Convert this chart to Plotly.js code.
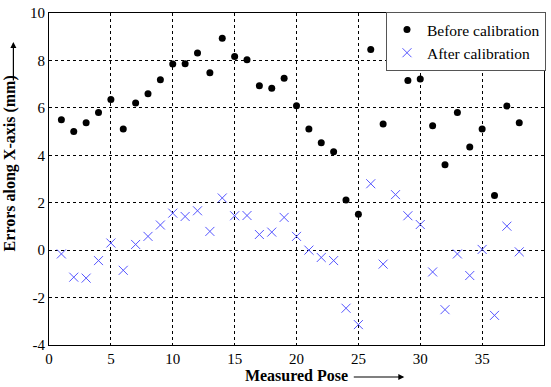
<!DOCTYPE html>
<html>
<head>
<meta charset="utf-8">
<script src="https://cdn.plot.ly/plotly-3.0.1.min.js"></script>
<style>html,body{margin:0;padding:0;background:#fff;}#chart{width:551px;height:387px;}</style>
</head>
<body>
<div id="chart"></div>
<script>
const poses = [1,2,3,4,5,6,7,8,9,10,11,12,13,14,15,16,17,18,19,20,21,22,23,24,25,26,27,28,29,30,31,32,33,34,35,36,37,38];
const beforeCal = [5.5,5.0,5.37,5.8,6.35,5.11,6.21,6.6,7.18,7.85,7.86,8.31,7.48,8.94,8.17,8.03,6.93,6.83,7.25,6.09,
  5.11,4.53,4.15,2.11,1.51,8.46,5.32,8.15,7.15,7.22,5.25,3.6,5.8,4.35,5.11,2.3,6.08,5.37];
const afterCal = [-0.16,-1.14,-1.18,-0.44,0.3,-0.85,0.24,0.58,1.06,1.56,1.42,1.66,0.79,2.2,1.45,1.46,0.66,0.76,1.38,0.58,
  0.0,-0.31,-0.44,-2.45,-3.14,2.8,-0.59,2.34,1.45,1.08,-0.92,-2.51,-0.16,-1.07,0.03,-2.75,1.01,-0.07];
const xTicks = [0,5,10,15,20,25,30,35,40];
const yTicks = [-4,-2,0,2,4,6,8,10];

const serif = 'Liberation Serif';
const traces = [
  {x: poses, y: beforeCal, type: 'scatter', mode: 'markers', name: 'Before calibration',
   marker: {symbol: 'circle', size: 7, color: '#000'}},
  {x: poses, y: afterCal, type: 'scatter', mode: 'markers', name: 'After calibration',
   marker: {symbol: 'x-thin-open', size: 9, color: 'rgb(85,85,255)', line: {width: 1, color: 'rgb(85,85,255)'}}}
];
const axisCommon = {
  showline: true, mirror: true, linecolor: '#000', linewidth: 1,
  showgrid: true, gridcolor: '#000', griddash: 'dot', gridwidth: 1,
  zeroline: false, ticks: '', tickfont: {family: serif, size: 15, color: '#000'},
  fixedrange: true
};
const layout = {
  width: 551, height: 387,
  font: {family: serif, color: '#000'},
  margin: {l: 49, r: 6, t: 13, b: 42},
  paper_bgcolor: '#fff', plot_bgcolor: '#fff',
  showlegend: true,
  legend: {x: 1.002, y: 1.003, xanchor: 'right', yanchor: 'top', bgcolor: '#fff', bordercolor: '#555', borderwidth: 1,
    font: {family: serif, size: 15.5, color: '#000'}, tracegroupgap: 0, itemwidth: 30},
  xaxis: Object.assign({}, axisCommon, {range: [0, 40], tickvals: xTicks, ticktext: xTicks.map(String),
    title: {text: '<b>Measured Pose</b>', font: {family: serif, size: 16, color: '#000'}, standoff: 3}}),
  yaxis: Object.assign({}, axisCommon, {range: [-4, 10], tickvals: yTicks, ticktext: yTicks.map(String)}),
  annotations: [
    {xref: 'paper', yref: 'paper', x: -0.078, y: 0.5, xanchor: 'center', yanchor: 'middle',
     text: '<b>Errors along X-axis (mm)</b>', textangle: -90, showarrow: false,
     font: {family: serif, size: 16, color: '#000'}, yshift: 16},
    {xref: 'paper', yref: 'paper', x: (405-49)/496, y: -(377-345)/332, ax: -52, ay: 0,
     showarrow: true, arrowhead: 2, arrowsize: 1, arrowwidth: 1.2, arrowcolor: '#000', text: ''},
    {xref: 'paper', yref: 'paper', x: -0.078, y: (345-42)/332, ax: 0, ay: 40, xshift: 3,
     showarrow: true, arrowhead: 2, arrowsize: 1, arrowwidth: 1.2, arrowcolor: '#000', text: ''}
  ]
};
Plotly.newPlot('chart', traces, layout, {displayModeBar: false, staticPlot: true});
</script>
</body>
</html>
